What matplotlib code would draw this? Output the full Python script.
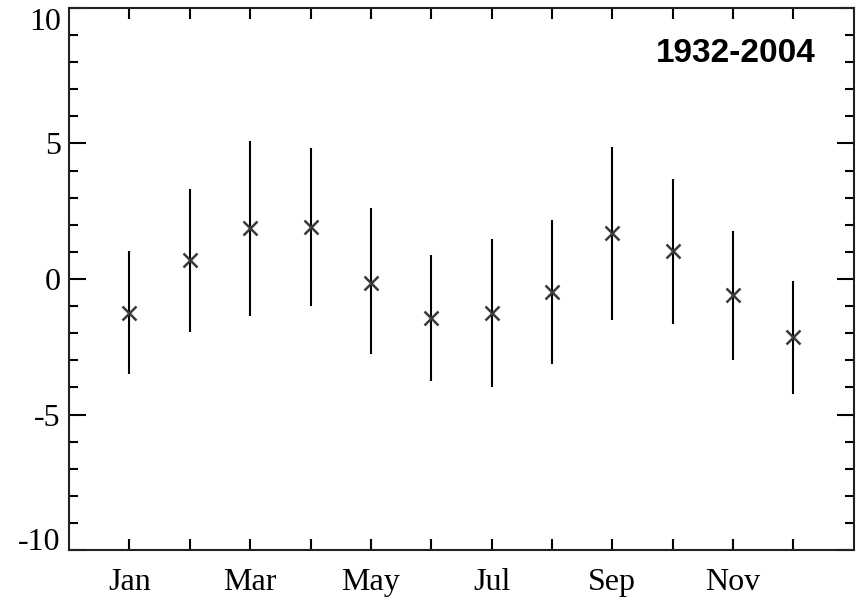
import numpy as np
import matplotlib.pyplot as plt

months = np.arange(1, 13)
month_labels = ['Jan', '', 'Mar', '', 'May', '', 'Jul', '', 'Sep', '', 'Nov', '']
mean = [-1.26, 0.71, 1.87, 1.90, -0.14, -1.44, -1.26, -0.47, 1.70, 1.02, -0.60, -2.14]
upper = [1.02, 3.33, 5.09, 4.82, 2.60, 0.90, 1.49, 2.19, 4.88, 3.70, 1.78, -0.06]
lower = [-3.50, -1.96, -1.35, -0.99, -2.77, -3.75, -3.97, -3.14, -1.50, -1.66, -2.98, -4.25]
period = '1932-2004'

plt.rcParams['font.family'] = ['Liberation Serif', 'DejaVu Serif']
plt.rcParams['axes.unicode_minus'] = False

mean = np.array(mean)
yerr = [mean - np.array(lower), np.array(upper) - mean]

fig = plt.figure(figsize=(8.64, 6), dpi=100)
ax = fig.add_axes([0.080, 0.083, 0.908, 0.904])

ax.errorbar(months, mean, yerr=yerr, fmt='none', ecolor='black', elinewidth=1.5, capsize=0)
ax.plot(months, mean, 'x', color='#3a3a3a', markersize=10, markeredgewidth=1.8)

ax.set_xlim(0, 13)
ax.set_ylim(-10, 10)
ax.set_xticks(months)
ax.set_xticklabels(month_labels)
ax.set_yticks([-10, -5, 0, 5, 10])
ax.set_yticks(np.arange(-9, 10, 1), minor=True)

ax.tick_params(axis='both', which='major', labelsize=23)
ax.tick_params(axis='x', which='major', direction='in', length=8, width=1.5,
               top=True, bottom=True, pad=13)
ax.tick_params(axis='y', which='major', direction='in', length=12, width=1.5,
               left=True, right=True, pad=6)
ax.tick_params(axis='y', which='minor', direction='in', length=6.5, width=1.5,
               left=True, right=True)
ax.tick_params(axis='x', which='minor', bottom=False, top=False)
for sp in ax.spines.values():
    sp.set_linewidth(1.5)
    sp.set_color('#222222')

# keep the end labels inside the figure like the reference
ylabs = ax.get_yticklabels()
ylabs[-1].set_verticalalignment('top')
ylabs[0].set_verticalalignment('baseline')

ax.text(0.951, 0.915, period, transform=ax.transAxes, ha='right', va='center',
        fontsize=24, fontweight='bold', family=['Liberation Sans', 'DejaVu Sans'])

fig.savefig('out.png', dpi=100)
